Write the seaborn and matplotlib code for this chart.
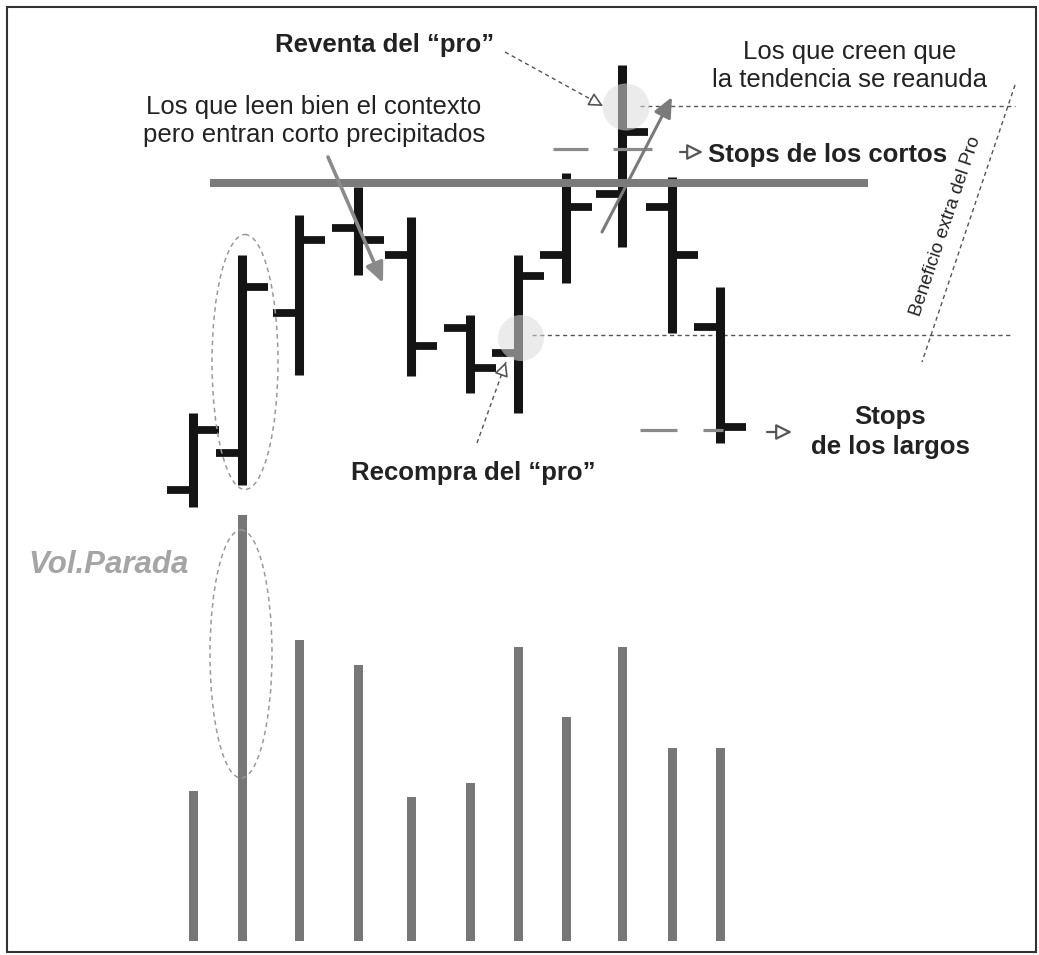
import numpy as np
import pandas as pd
import matplotlib
matplotlib.use("Agg")
import matplotlib.pyplot as plt
import matplotlib.transforms as mtransforms
from matplotlib.patches import Ellipse, Circle, Rectangle
import seaborn as sns

# ---------------- data ----------------
bar_t = [193, 242, 299, 358, 411, 470, 518, 566, 622, 672, 720]
open_ = [11.0, 14.7, 28.7, 37.2, 34.5, 27.2, 24.7, 34.5, 40.6, 39.3, 27.3]
high = [18.7, 34.5, 38.5, 41.3, 38.3, 28.5, 34.5, 42.7, 53.5, 42.3, 31.3]
low = [9.3, 11.5, 22.5, 32.5, 22.4, 20.7, 18.7, 31.7, 35.3, 26.7, 15.7]
close = [17.0, 31.3, 36.0, 36.0, 25.4, 23.2, 32.4, 39.3, 46.8, 34.5, 17.3]
volume = [150, 426, 301, 276, 144, 158, 294, 224, 294, 193, 193]

resistance = 41.7
reventa_level = 49.4
recompra_level = 26.5
stop_cortos = 45.1
stop_largos = 17.0

# ---------------- figure ----------------
sns.set_theme(style="white")
plt.rcParams['font.family'] = ['Liberation Sans', 'DejaVu Sans']

W, H = 1039, 955
fig = plt.figure(figsize=(W / 100, H / 100), dpi=100)
fig.patch.set_facecolor("white")
px = mtransforms.Affine2D().scale(1 / W, -1 / H).translate(0, 1) + fig.transFigure

# volume axes
axv = fig.add_axes([0, (H - 941) / H, 1, (941 - 500) / H])
axv.patch.set_alpha(0)
df = pd.DataFrame({"t": bar_t, "vol": volume})
sns.barplot(data=df, x="t", y="vol", native_scale=True, width=9 / 48,
            color="#777777", saturation=1, ax=axv, linewidth=0)
axv.set_xlim(0, W)
axv.set_ylim(0, 441)
axv.axis("off")

# price axes
ax = fig.add_axes([0, 0, 1, 1])
ax.patch.set_alpha(0)
ax.set_xlim(0, W)
ax.set_ylim(-35.5, 60)
ax.axis("off")

t = np.array(bar_t)
ink = "#141414"
ax.vlines(t, low, high, colors=ink, lw=6.5, zorder=3)
ax.hlines(open_, t - 26, t, colors=ink, lw=5.6, zorder=3)
ax.hlines(close, t, t + 26, colors=ink, lw=5.6, zorder=3)

# resistance
ax.hlines(resistance, 210, 868, colors="#7b7b7b", lw=5.8, zorder=4)
# dashed levels
ax.hlines(reventa_level, 640, 1015, colors="#555555", lw=1.0, linestyles=(0, (3, 2.5)), zorder=2)
ax.hlines(recompra_level, 532, 1013, colors="#555555", lw=1.0, linestyles=(0, (3, 2.5)), zorder=2)
# stop dashes
ax.hlines([stop_cortos, stop_cortos], [553, 613], [588, 652], colors="#8a8a8a", lw=2.3, zorder=5)
ax.hlines([stop_largos, stop_largos], [640, 703], [677, 723], colors="#8a8a8a", lw=2.3, zorder=5)

# highlight circles
for cx, cy, r in [(626, 107, 23.5), (521, 338, 23)]:
    fig.patches.append(Circle((cx, cy), r, transform=px, facecolor="#dcdcdc",
                              alpha=0.55, edgecolor="none", zorder=10))

# dashed ellipses
for cx, cy, w, h in [(245, 362, 66, 255), (241, 654, 62, 248)]:
    fig.patches.append(Ellipse((cx, cy), w, h, transform=px, fill=False,
                               edgecolor="#9a9a9a", lw=1.1, linestyle=(0, (3, 2.5)), zorder=11))

# frame
fig.patches.append(Rectangle((7, 7), 1029, 945, transform=px, fill=False,
                             edgecolor="#333333", lw=1.5, zorder=20))

txt = "#222222"
fs = 18.5
# texts
fig.text(385, 45, "Reventa del “pro”", transform=px, ha="center", va="center",
         fontsize=fs, fontweight="bold", color=txt)
fig.text(850, 66, "Los que creen que\nla tendencia se reanuda", transform=px,
         ha="center", va="center", fontsize=fs, color=txt, linespacing=1.25)
fig.text(314, 121, "Los que leen bien el contexto\npero entran corto precipitados", transform=px,
         ha="center", va="center", fontsize=fs, color=txt, linespacing=1.2)
fig.text(708, 155, "Stops de los cortos", transform=px, ha="left", va="center",
         fontsize=fs, fontweight="bold", color=txt)
fig.text(890, 432, "Stops\nde los largos", transform=px, ha="center", va="center",
         fontsize=fs, fontweight="bold", color=txt, linespacing=1.3)
fig.text(473, 473, "Recompra del “pro”", transform=px, ha="center", va="center",
         fontsize=fs, fontweight="bold", color=txt)
fig.text(28, 565, "Vol.Parada", transform=px, ha="left", va="center",
         fontsize=22.5, fontweight="bold", fontstyle="italic", color="#a5a5a5")
fig.text(946, 226, "Beneficio extra del Pro", transform=px, ha="center", va="center",
         fontsize=13.5, rotation=71.4, color=txt, rotation_mode="anchor")

# lines / arrows in pixel space
def dashed_arrow(p0, p1):
    x0, y0 = p0
    x1, y1 = p1
    ax.plot([x0, x1], [y0, y1], transform=px, color="#555555", lw=1.0,
            linestyle=(0, (3, 2.5)), zorder=6)
    d = np.hypot(x1 - x0, y1 - y0)
    ux, uy = (x1 - x0) / d, (y1 - y0) / d
    ax.annotate("", xy=(x1, y1), xycoords=px, xytext=(x1 - 14 * ux, y1 - 14 * uy), textcoords=px,
                arrowprops=dict(arrowstyle="-|>,head_length=0.7,head_width=0.35",
                                fc="white", ec="#555555", lw=1.2, shrinkA=0, shrinkB=0), zorder=7)

dashed_arrow((505, 52), (603, 106))
dashed_arrow((477, 443), (506, 362))

ax.plot([1015, 922], [85, 362], transform=px, color="#555555", lw=1.0,
        linestyle=(0, (3, 2.5)), zorder=6)

for p0, p1, c, lw in [((328, 157), (383, 283), "#8a8a8a", 2.6),
                      ((602, 232), (672, 97), "#7a7a7a", 2.2)]:
    ax.annotate("", xy=p1, xycoords=px, xytext=p0, textcoords=px,
                arrowprops=dict(arrowstyle="-|>,head_length=1.0,head_width=0.45",
                                fc=c, ec=c, lw=lw, shrinkA=0, shrinkB=0), zorder=8)

for p0, p1 in [((680, 152), (703, 152)), ((767, 432), (792, 432))]:
    ax.annotate("", xy=p1, xycoords=px, xytext=p0, textcoords=px,
                arrowprops=dict(arrowstyle="-|>,head_length=0.8,head_width=0.4",
                                fc="white", ec="#555555", lw=1.6, shrinkA=0, shrinkB=0), zorder=8)

fig.savefig("out.png", dpi=100, facecolor="white")
